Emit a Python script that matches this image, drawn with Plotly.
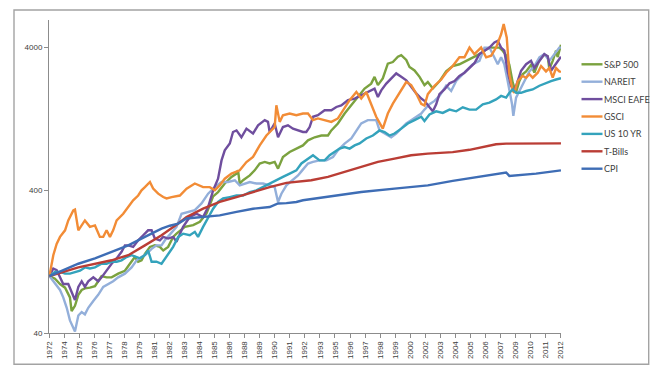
import math
import plotly.graph_objects as go

# ---------------- data (start = 100) ----------------
series_names = ["S&P 500", "NAREIT", "MSCI EAFE", "GSCI", "US 10 YR", "T-Bills", "CPI"]
series_colors = ["#7BA23F", "#93AFDA", "#6F4E9E", "#F28C36", "#34A3BC", "#BA3D35", "#3E6DB5"]

sp500_t = [1972.95,1973.38,1973.77,1974.16,1974.54,1974.67,1974.93,1975.19,1975.45,1975.70,
           1976.09,1976.48,1976.73,1976.99,1977.38,1977.77,1978.28,1978.80,1979.19,1979.57,
           1979.83,1980.09,1980.35,1980.74,1981.12,1981.51,1981.77,1982.15,1982.54,1982.80,
           1983.45,1984.09,1984.61,1985.12,1985.64,1986.02,1986.54,1987.06,1987.45,1987.57,
           1987.70,1987.96,1988.48,1988.86,1989.25,1989.64,1990.02,1990.41,1990.67,1991.05,
           1991.57,1992.09,1992.60,1992.99,1993.51,1994.03,1994.54,1994.80,1995.31,1995.83,
           1996.35,1996.86,1997.38,1997.89,1998.15,1998.41,1998.79,1999.18,1999.57,1999.96,
           2000.22,2000.61,2000.86,2001.25,2001.64,2002.02,2002.28,2002.67,2003.18,2003.70,
           2004.21,2004.73,2005.25,2005.76,2006.28,2006.67,2007.06,2007.44,2007.83,2008.08,
           2008.35,2008.60,2008.86,2009.12,2009.38,2009.63,2009.90,2010.28,2010.54,2010.93,
           2011.31,2011.57,2011.70,2011.96,2012.22,2012.34,2012.60]
sp500_v = [100,96,88,83,71,57,62,74,80,82,
           83,85,92,100,98,98,104,109,122,136,
           126,129,143,160,164,160,151,160,188,198,
           221,227,240,273,361,387,444,494,521,549,
           444,468,506,549,613,629,613,629,564,681,
           737,779,820,890,935,962,962,1044,1168,1371,
           1563,1787,2048,2218,2473,2166,2410,3061,3140,3420,
           3510,3245,2900,2740,2473,2166,2276,2050,2300,2700,
           2945,3030,3200,3388,3568,3769,3962,3962,3962,3770,
           3500,3000,2250,1930,2313,2580,2700,3000,2650,3250,
           3540,3450,2800,3200,3770,3400,4140]

nareit_t = [1972.95,1973.38,1973.77,1974.02,1974.29,1974.54,1974.93,1975.19,1975.45,1975.70,
            1975.96,1976.35,1976.73,1977.12,1977.51,1977.89,1978.28,1978.80,1979.32,1979.71,
            1980.09,1980.48,1980.87,1981.25,1981.64,1981.90,1982.28,1982.80,1983.19,1983.70,
            1984.22,1984.74,1985.25,1985.77,1986.29,1986.80,1987.32,1987.70,1987.96,1988.48,
            1988.99,1989.51,1990.02,1990.41,1990.67,1990.93,1991.32,1991.83,1992.22,1992.48,
            1992.99,1993.38,1993.89,1994.42,1994.93,1995.31,1995.83,1996.35,1996.74,1997.12,
            1997.63,1998.02,1998.28,1998.54,1998.93,1999.44,1999.83,2000.22,2000.61,2000.99,
            2001.38,2001.77,2002.02,2002.41,2002.80,2003.18,2003.70,2004.09,2004.48,2004.86,
            2005.25,2005.76,2006.28,2006.67,2007.06,2007.31,2007.70,2007.96,2008.21,2008.47,
            2008.66,2008.81,2008.91,2009.12,2009.38,2009.76,2010.15,2010.54,2010.93,2011.31,
            2011.70,2012.09,2012.47,2012.60]
nareit_v = [100,88,80,71,60,49,41,53,56,54,
            60,67,74,84,88,92,98,104,115,129,
            136,143,155,164,164,178,195,221,273,281,
            289,322,377,419,455,455,468,431,440,455,
            444,444,431,419,330,377,431,468,506,540,
            613,629,644,644,681,758,845,917,1044,1168,
            1232,1232,1232,1044,993,935,993,1074,1168,1232,
            1300,1371,1460,1590,1680,1820,2144,1969,2313,2512,
            2730,3030,3200,3962,3962,3568,3030,3388,3030,2313,
            1872,1590,1320,1770,1969,2313,2700,2945,3388,3568,
            3200,3568,3962,3962]

msci_t = [1972.95,1973.25,1973.51,1973.77,1974.02,1974.41,1974.80,1974.93,1975.19,1975.45,
          1975.70,1975.96,1976.35,1976.73,1976.99,1977.38,1977.77,1978.16,1978.54,1978.80,
          1979.06,1979.44,1979.83,1980.22,1980.60,1980.87,1981.12,1981.51,1981.77,1982.15,
          1982.54,1982.80,1983.31,1983.83,1984.35,1984.86,1985.25,1985.64,1986.02,1986.29,
          1986.54,1986.93,1987.18,1987.45,1987.83,1988.22,1988.73,1989.12,1989.64,1989.89,
          1990.02,1990.41,1990.67,1991.05,1991.44,1991.83,1992.22,1992.60,1992.86,1993.12,
          1993.38,1993.76,1994.28,1994.80,1995.19,1995.57,1996.09,1996.61,1997.12,1997.63,
          1998.15,1998.41,1998.67,1999.06,1999.44,1999.83,2000.22,2000.61,2000.99,2001.38,
          2001.77,2002.02,2002.41,2002.67,2002.93,2003.18,2003.57,2003.96,2004.35,2004.73,
          2005.12,2005.51,2005.89,2006.28,2006.67,2007.06,2007.44,2007.70,2007.96,2008.21,
          2008.47,2008.73,2008.99,2009.25,2009.51,2009.90,2010.28,2010.54,2010.93,2011.31,
          2011.57,2011.83,2012.09,2012.34,2012.60]
msci_v = [100,113,110,98,88,88,71,68,84,92,
          84,92,98,92,98,109,122,133,148,164,
          164,160,178,193,209,209,183,178,188,183,
          188,174,221,259,273,259,304,398,480,644,
          758,845,1018,1044,935,1074,993,1133,1232,1198,
          1018,1168,935,1102,1133,1074,1044,1018,1018,1102,
          1300,1333,1445,1445,1523,1563,1698,1744,1840,1939,
          2048,1787,1990,2218,2410,2614,2473,2340,2110,1893,
          1744,1680,1515,1420,1590,1872,2020,2230,2313,2512,
          2645,2850,3080,3568,3769,3962,4300,4410,3962,3769,
          2700,2144,1969,2313,2730,3030,3200,2850,3200,3568,
          3450,2730,2945,3200,3420]

gsci_t = [1972.95,1973.25,1973.51,1973.77,1974.16,1974.41,1974.80,1974.93,1975.19,1975.70,
          1976.09,1976.48,1976.86,1977.12,1977.38,1977.64,1977.89,1978.16,1978.67,1979.06,
          1979.44,1979.83,1980.09,1980.35,1980.74,1980.99,1981.38,1981.77,1982.03,1982.42,
          1982.80,1983.06,1983.58,1984.22,1984.86,1985.38,1985.77,1986.15,1986.54,1987.06,
          1987.70,1988.22,1988.73,1989.25,1989.77,1990.16,1990.41,1990.54,1990.80,1991.05,
          1991.57,1992.09,1992.60,1992.99,1993.38,1993.76,1994.28,1994.80,1995.31,1995.70,
          1996.22,1996.74,1997.12,1997.51,1997.89,1998.28,1998.79,1999.18,1999.57,2000.09,
          2000.61,2000.99,2001.38,2001.77,2002.02,2002.28,2002.80,2003.32,2003.70,2004.21,
          2004.73,2005.12,2005.51,2005.89,2006.15,2006.41,2006.80,2007.19,2007.57,2007.96,
          2008.16,2008.40,2008.60,2008.86,2008.99,2009.25,2009.63,2009.90,2010.15,2010.41,
          2010.80,2011.06,2011.44,2011.70,2011.96,2012.22,2012.47,2012.60]
gsci_v = [100,140,168,188,209,245,288,292,209,245,
          221,226,188,188,209,188,209,245,273,304,
          339,366,398,419,455,409,377,357,349,357,
          361,366,409,444,419,419,398,431,480,521,
          549,627,681,820,962,1044,1102,1563,1198,1333,
          1371,1333,1371,1371,1232,1266,1232,1198,1266,1445,
          1698,1939,1744,1939,1607,1300,1074,1371,1607,1893,
          2276,2166,1893,1600,1560,1872,2144,2369,2645,2945,
          3388,3388,3962,3568,3769,3962,3388,3480,3962,4908,
          5780,4650,2580,1969,1914,2313,2512,2440,2580,2440,
          2645,2945,2700,2850,2440,2850,2700,2680]

ust10_t = [1972.95,1973.38,1973.77,1974.16,1974.54,1974.93,1975.32,1975.70,1976.09,1976.48,
           1976.99,1977.38,1977.77,1978.16,1978.54,1978.93,1979.32,1979.71,1979.96,1980.35,
           1980.60,1980.87,1981.25,1981.64,1981.90,1982.28,1982.54,1982.93,1983.31,1983.83,
           1984.22,1984.47,1984.86,1985.25,1985.64,1986.02,1986.41,1986.93,1987.45,1987.96,
           1988.48,1988.99,1989.51,1990.02,1990.54,1991.05,1991.57,1992.09,1992.48,1992.99,
           1993.38,1993.89,1994.28,1994.67,1995.06,1995.44,1995.83,1996.22,1996.61,1996.99,
           1997.51,1998.02,1998.54,1998.93,1999.31,1999.70,2000.22,2000.73,2001.25,2001.77,
           2002.02,2002.41,2002.93,2003.44,2003.96,2004.48,2004.99,2005.51,2006.02,2006.54,
           2007.06,2007.57,2007.96,2008.35,2008.60,2008.86,2009.12,2009.51,2009.90,2010.41,
           2010.93,2011.44,2011.83,2012.22,2012.60]
ust10_v = [100,107,107,104,104,107,109,115,113,115,
           122,122,126,126,129,136,140,136,133,140,
           151,126,126,122,133,148,160,188,198,193,
           204,188,221,259,296,330,349,357,366,366,
           387,398,419,444,468,494,521,549,613,663,
           700,644,644,700,737,779,799,779,820,846,
           917,962,1044,1018,962,993,1074,1168,1232,1300,
           1215,1350,1420,1385,1460,1420,1515,1460,1460,1590,
           1633,1720,1820,1770,1914,2020,1914,1914,1969,2020,
           2144,2254,2313,2370,2420]

tbill_t = [1972.95,1975.19,1977.77,1979.06,1980.35,1981.64,1982.93,1983.58,1984.86,1986.15,
           1987.45,1988.73,1990.02,1991.32,1992.60,1993.25,1994.54,1995.83,1997.12,1998.41,
           1999.70,2000.99,2002.28,2003.57,2004.21,2005.51,2006.80,2007.57,2008.35,2010.00,
           2012.60]
tbill_v = [100,115,129,140,164,193,233,259,296,330,
           357,387,419,449,463,468,494,535,579,629,
           663,700,718,730,736,764,812,836,844,846,
           848]

cpi_t = [1972.95,1973.90,1975.19,1976.48,1977.77,1979.06,1980.35,1981.64,1982.28,1982.93,
         1983.58,1984.86,1986.15,1987.45,1988.73,1990.02,1990.67,1991.32,1992.09,1992.60,
         1994.54,1997.12,1999.70,2002.28,2004.21,2006.80,2008.35,2008.60,2010.67,2012.60]
cpi_v = [100,109,122,133,148,164,188,215,225,233,
         253,259,266,281,296,304,322,324,330,339,
         357,387,409,431,463,502,530,502,521,549]

tick_years = [1972, 1974, 1975, 1976, 1977, 1978, 1979, 1981, 1982, 1983, 1984, 1985,
              1986, 1988, 1989, 1990, 1991, 1992, 1993, 1995, 1996, 1997, 1998, 1999,
              2000, 2002, 2003, 2004, 2005, 2006, 2007, 2009, 2010, 2011, 2012]
y_ticks = [40, 400, 4000]

series_t = [sp500_t, nareit_t, msci_t, gsci_t, ust10_t, tbill_t, cpi_t]
series_v = [sp500_v, nareit_v, msci_v, gsci_v, ust10_v, tbill_v, cpi_v]
for t, v in zip(series_t, series_v):
    assert len(t) == len(v)

# ---------------- layout ----------------
# the page body has an 8px default margin, so the figure sits at (8, 8)
OFF = 8
W, H = 666 - OFF, 379 - OFF
ML, MR, MT, MB = 49 - OFF, 105, 20 - OFF, 46
PW, PH = W - ML - MR, H - MT - MB

def px_x(p):  # absolute window pixel -> paper
    return (p - OFF - ML) / PW

def px_y(p):
    return (OFF + H - MB - p) / PH

first_tick = 1972 + 11 / 12          # categories labelled every 14 months
tick_step = 14 / 12
tickvals = [first_tick + k * tick_step for k in range(len(tick_years))]

fig = go.Figure()
for name, col, t, v in zip(series_names, series_colors, series_t, series_v):
    fig.add_trace(go.Scatter(x=t, y=v, mode="lines", name=name,
                             line=dict(color=col, width=2.4), showlegend=False,
                             hoverinfo="skip"))

axis_col = "#8C8C8C"
tickfont = dict(family="Liberation Sans, Arial, sans-serif", size=8, color="#404040")

fig.update_xaxes(range=[first_tick, tickvals[-1] + 0.02], tickvals=tickvals,
                 ticktext=[str(y) for y in tick_years], tickangle=-90,
                 ticks="outside", ticklen=4, tickcolor=axis_col, tickwidth=1,
                 showline=True, linecolor=axis_col, linewidth=1,
                 showgrid=False, zeroline=False, tickfont=tickfont, automargin=False)
fig.update_yaxes(type="log", range=[math.log10(40), math.log10(40) + PH / 143.0],
                 tickvals=y_ticks, ticktext=[str(v) for v in y_ticks],
                 ticks="outside", ticklen=4, tickcolor=axis_col, tickwidth=1,
                 showline=True, linecolor=axis_col, linewidth=1,
                 showgrid=False, zeroline=False, tickfont=tickfont, automargin=False)

shapes = [dict(type="rect", xref="paper", yref="paper",
               x0=px_x(14), x1=px_x(648.7), y0=px_y(364.3), y1=px_y(10),
               line=dict(color="#A3A3A3", width=1.4), fillcolor="rgba(0,0,0,0)",
               layer="below")]
annotations = []
for i, (name, col) in enumerate(zip(series_names, series_colors)):
    yy = px_y(64.3 + i * 17.4)
    shapes.append(dict(type="line", xref="paper", yref="paper",
                       x0=px_x(581.5), x1=px_x(602.5), y0=yy, y1=yy,
                       line=dict(color=col, width=2.4)))
    annotations.append(dict(xref="paper", yref="paper", x=px_x(602), y=yy,
                            text=name, showarrow=False, xanchor="left", yanchor="middle",
                            font=dict(family="Lato, Carlito, sans-serif", size=9,
                                      color="#404040")))

fig.update_layout(width=W, height=H, margin=dict(l=ML, r=MR, t=MT, b=MB),
                  paper_bgcolor="white", plot_bgcolor="white", showlegend=False,
                  shapes=shapes, annotations=annotations)

fig.write_html("out.html")
